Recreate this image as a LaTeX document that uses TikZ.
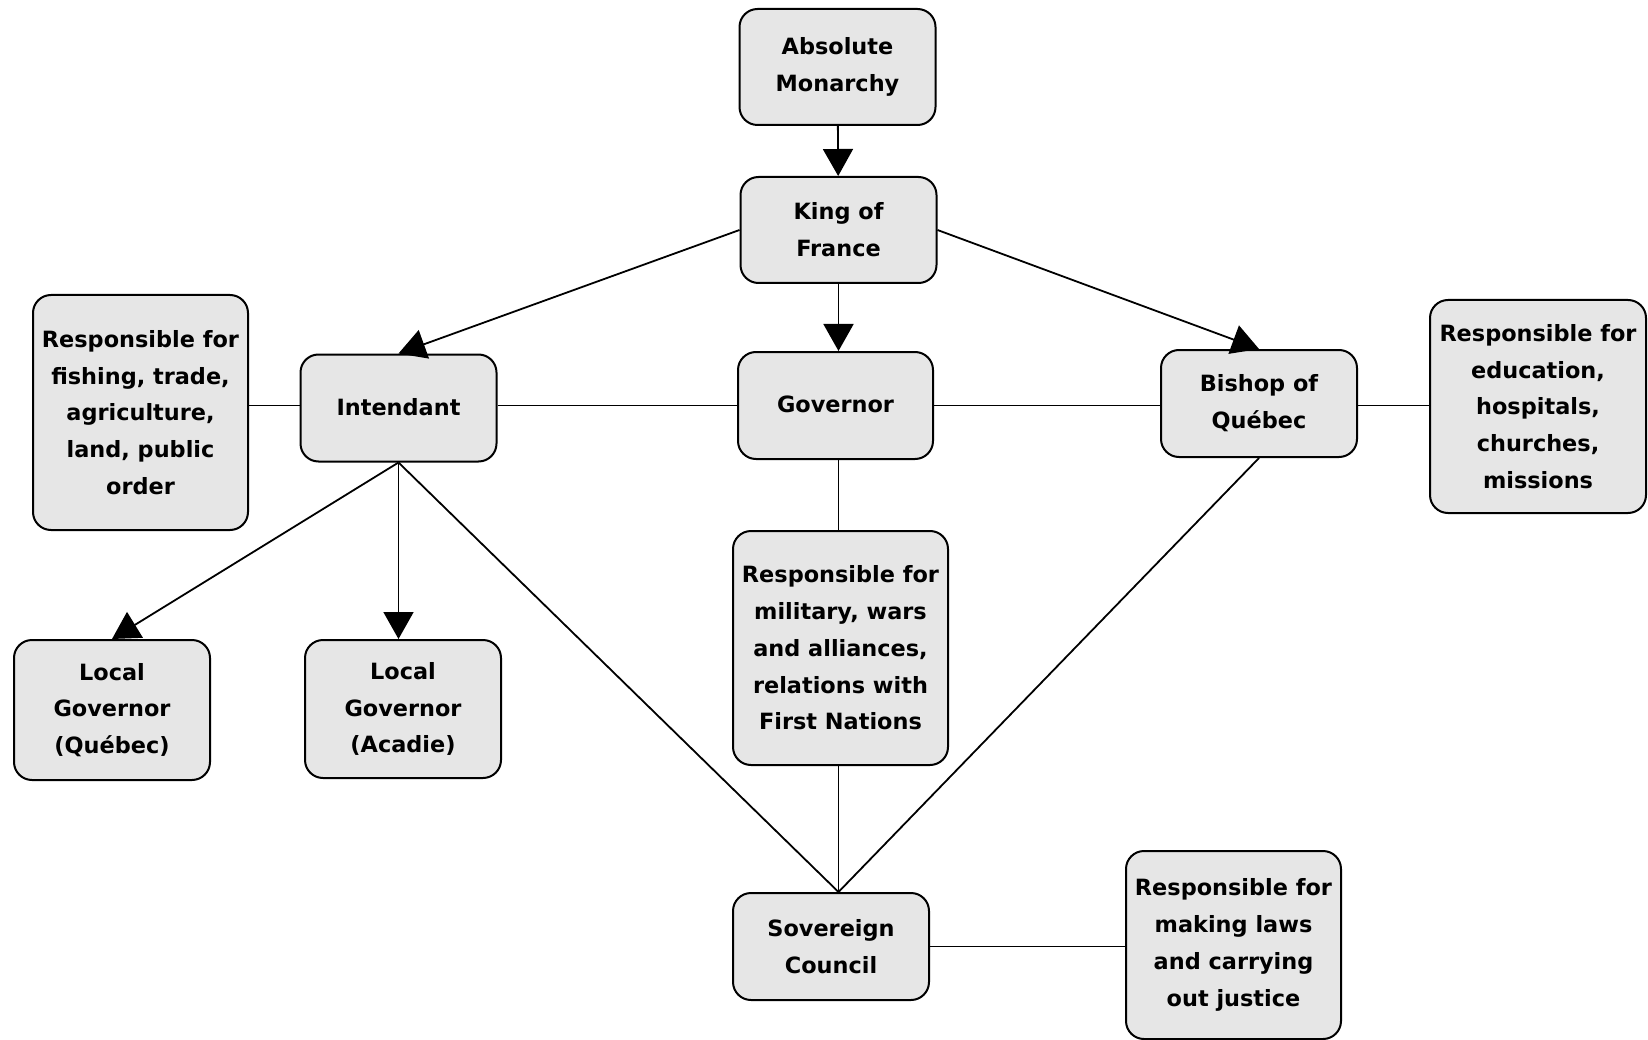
\documentclass[tikz,border=0pt]{standalone}
\usepackage{fontspec}
\setmainfont{DejaVu Sans}
\usetikzlibrary{arrows.meta}
\definecolor{boxgray}{RGB}{230,230,230}
\begin{document}
\begin{tikzpicture}[x=1pt,y=-1pt,
  box/.style={draw=black, line width=2pt, fill=boxgray, rounded corners=18pt,
    align=center, inner sep=0pt, font=\bfseries\fontsize{22.4}{36.8}\selectfont},
  link/.style={line width=1.8pt, draw=black},
  arr/.style={link, -{Triangle[width=30pt,length=27pt]}},
]
\useasboundingbox (0,0) rectangle (1648,1040);
\fill[white] (0,0) rectangle (1648,1040);

\node[box, minimum width=196, minimum height=116] (abs) at (837.5,67) {Absolute\\Monarchy};
\node[box, minimum width=196, minimum height=106] (king) at (838.5,230) {King of\\France};
\node[box, minimum width=196, minimum height=107] (int) at (398.5,408) {\raisebox{2pt}{Intendant}};
\node[box, minimum width=215, minimum height=235] (resL) at (140.5,412.5) {Responsible for\\fishing, trade,\\agriculture,\\land, public\\order};
\node[box, minimum width=196, minimum height=140] (lgq) at (112,710) {Local\\Governor\\(Québec)};
\node[box, minimum width=196, minimum height=138] (lga) at (403,709) {Local\\Governor\\(Acadie)};
\node[box, minimum width=195, minimum height=107] (gov) at (835.5,405.5) {\raisebox{2pt}{Governor}};
\node[box, minimum width=196, minimum height=107] (bish) at (1259,403.5) {Bishop of\\Québec};
\node[box, minimum width=216, minimum height=213] (resR) at (1538,406.5) {Responsible for\\education,\\hospitals,\\churches,\\missions};
\node[box, minimum width=215, minimum height=234] (govres) at (840.5,648) {Responsible for\\military, wars\\and alliances,\\relations with\\First Nations};
\node[box, minimum width=196, minimum height=107] (sov) at (831,946.5) {Sovereign\\Council};
\node[box, minimum width=215, minimum height=188] (resB) at (1233.5,945) {Responsible for\\making laws\\and carrying\\out justice};

\coordinate (sovtop) at (sov.north -| king.south);

\draw[arr] (abs) -- (king);
\draw[arr] (king.south) -- (king.south |- gov.north);
\draw[arr] (king.west) -- (int.north);
\draw[arr] (king.east) -- (bish.north);
\draw[arr] (int.south) -- (lgq.north);
\draw[arr] (int.south) -- (int.south |- lga.north);

\draw[link] (resL.east |- gov) -- (int.west |- gov);
\draw[link] (int.east |- gov) -- (gov.west);
\draw[link] (gov.east) -- (bish.west |- gov);
\draw[link] (bish.east |- gov) -- (resR.west |- gov);

\draw[link] (gov.south -| king.south) -- (govres.north -| king.south);
\draw[link] (govres.south -| king.south) -- (sovtop);
\draw[link] (int.south) -- (sovtop);
\draw[link] (bish.south) -- (sovtop);
\draw[link] (sov.east) -- (resB.west |- sov);
\end{tikzpicture}
\end{document}
